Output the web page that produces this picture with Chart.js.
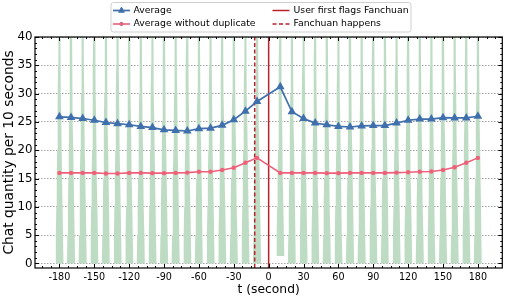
<!DOCTYPE html>
<html>
<head>
<meta charset="utf-8">
<script src="https://cdn.jsdelivr.net/npm/chart.js@4.4.0/dist/chart.umd.min.js"></script>
<style>
  html, body { margin: 0; padding: 0; background: #fff; }
</style>
</head>
<body>
<canvas id="chatChart" width="508" height="300"></canvas>
<script>
// seconds relative to the moment the user first flags Fanchuan
const times = [-180, -170, -160, -150, -140, -130, -120, -110, -100, -90, -80, -70, -60, -50, -40, -30, -20, -10,
               10, 20, 30, 40, 50, 60, 70, 80, 90, 100, 110, 120, 130, 140, 150, 160, 170, 180];

const avgChat = [25.9, 25.8, 25.6, 25.3, 24.9, 24.7, 24.5, 24.2, 24.0, 23.6, 23.5, 23.4, 23.8, 23.9, 24.4, 25.4, 26.9, 28.6,
                 31.2, 26.8, 25.6, 24.8, 24.5, 24.2, 24.1, 24.3, 24.35, 24.35, 24.8, 25.3, 25.5, 25.5, 25.75, 25.7, 25.7, 26.0];

const avgNoDup = [16.0, 16.0, 16.0, 16.0, 15.9, 15.9, 16.0, 16.0, 15.95, 15.95, 16.0, 16.05, 16.2, 16.2, 16.5, 16.9, 17.8, 18.65,
                  16.0, 16.0, 16.0, 16.0, 15.95, 15.95, 16.0, 16.0, 16.0, 16.0, 16.05, 16.1, 16.2, 16.25, 16.5, 17.0, 17.8, 18.65];

// distribution shape behind each time step (violin): lowest value and half width per level
const violinBottom = [0, 0, 0, 0, 0, 0, 0, 0, 0, 0, 0, 0, 0, 0, 0, 0, 0, 0,
                      1.3, 0, 0, 0, 0, 0, 0, 0, 0, 0, 0, 0, 0, 0, 0, 0, 0, 0];
const violinLevels = [0, 5, 10, 15, 20, 25, 30, 35, 40, 46];
const violinHalfWidth = [3.5, 3.1, 2.7, 2.3, 1.95, 1.65, 1.35, 1.12, 0.95, 0.8];

const flagTime = 0;
const fanchuanTime = -12;

const xTicks = [-180, -150, -120, -90, -60, -30, 0, 30, 60, 90, 120, 150, 180];
const yTicks = [0, 5, 10, 15, 20, 25, 30, 35, 40];
const xRange = [-201, 201];
const yRange = [-0.8, 40];

const FONT = "'DejaVu Sans', sans-serif";
const GREEN = '#bedcc3';
const BLUE = '#3f70ad';
const PINK = '#ef6079';
const DARKRED = '#b8232b';

const violinSets = times.map((t, i) => {
    const left = violinLevels.map((lv, k) => ({ x: t - violinHalfWidth[k], y: Math.max(lv, violinBottom[i]) }));
    const right = violinLevels.map((lv, k) => ({ x: t + violinHalfWidth[k], y: Math.max(lv, violinBottom[i]) })).reverse();
    return {
        label: '',
        data: left.concat(right),
        fill: 'shape',
        backgroundColor: GREEN,
        borderColor: 'rgba(0,0,0,0)',
        borderWidth: 0,
        pointRadius: 0,
        tension: 0,
        order: 10
    };
});

const lineSets = [
    {
        label: 'Average',
        data: times.map((t, i) => ({ x: t, y: avgChat[i] })),
        borderColor: BLUE,
        backgroundColor: BLUE,
        borderWidth: 1.7,
        pointStyle: 'triangle',
        pointRadius: 3.3,
        fill: false,
        tension: 0,
        order: 1
    },
    {
        label: 'Average without duplicate',
        data: times.map((t, i) => ({ x: t, y: avgNoDup[i] })),
        borderColor: PINK,
        backgroundColor: PINK,
        borderWidth: 1.6,
        pointStyle: 'circle',
        pointRadius: 1.4,
        fill: false,
        tension: 0,
        order: 2
    },
    {
        label: 'User first flags Fanchuan',
        data: [{ x: flagTime, y: yRange[0] }, { x: flagTime, y: yRange[1] }],
        borderColor: DARKRED,
        borderWidth: 1.5,
        pointRadius: 0,
        fill: false,
        order: 3
    },
    {
        label: 'Fanchuan happens',
        data: [{ x: fanchuanTime, y: yRange[0] }, { x: fanchuanTime, y: yRange[1] }],
        borderColor: DARKRED,
        borderWidth: 1.5,
        borderDash: [4, 2.5],
        pointRadius: 0,
        fill: false,
        order: 3
    }
];

// frame + inward ticks on all four sides, matplotlib style
const frameTicks = {
    id: 'frameTicks',
    afterDraw(chart) {
        const { ctx, chartArea: a, scales: { x, y } } = chart;
        ctx.save();
        ctx.strokeStyle = '#000';
        ctx.lineWidth = 1;
        const tick = (x1, y1, x2, y2) => { ctx.beginPath(); ctx.moveTo(x1, y1); ctx.lineTo(x2, y2); ctx.stroke(); };
        for (let v = -195; v <= 195; v += 7.5) {
            const px = Math.round(x.getPixelForValue(v)) + 0.5;
            const len = (v % 30 === 0) ? 4 : 2;
            tick(px, a.bottom, px, a.bottom - len);
            tick(px, a.top, px, a.top + len);
        }
        for (let v = 0; v <= 40; v += 1) {
            const py = Math.round(y.getPixelForValue(v)) + 0.5;
            const len = (v % 5 === 0) ? 4 : 2;
            tick(a.left, py, a.left + len, py);
            tick(a.right, py, a.right - len, py);
        }
        ctx.lineWidth = 1.2;
        ctx.strokeRect(a.left, a.top, a.right - a.left, a.bottom - a.top);
        ctx.restore();
    }
};

// two-column legend box above the plot
const legendBox = {
    id: 'legendBox',
    afterDraw(chart) {
        const ctx = chart.ctx;
        const cells = [
            { ds: lineSets[0], hx: 113, tx: 133.5, y: 10.5 },
            { ds: lineSets[1], hx: 113, tx: 133.5, y: 24 },
            { ds: lineSets[2], hx: 272.5, tx: 293.5, y: 10.5 },
            { ds: lineSets[3], hx: 272.5, tx: 293.5, y: 24 }
        ];
        ctx.save();
        ctx.beginPath();
        ctx.roundRect(111, 2.5, 300, 29.5, 2.5);
        ctx.fillStyle = 'rgba(255,255,255,0.85)';
        ctx.fill();
        ctx.strokeStyle = '#cfcfcf';
        ctx.lineWidth = 1;
        ctx.stroke();
        ctx.font = "9.3px " + FONT;
        ctx.textBaseline = 'middle';
        cells.forEach(c => {
            ctx.save();
            ctx.strokeStyle = c.ds.borderColor;
            ctx.lineWidth = c.ds.borderWidth;
            ctx.setLineDash(c.ds.borderDash || []);
            ctx.beginPath();
            ctx.moveTo(c.hx, c.y);
            ctx.lineTo(c.hx + 17, c.y);
            ctx.stroke();
            ctx.restore();
            if (c.ds.pointRadius) {
                Chart.helpers.drawPoint(ctx, {
                    pointStyle: c.ds.pointStyle,
                    radius: c.ds.pointRadius,
                    rotation: 0,
                    borderWidth: 1
                }, c.hx + 8.5, c.y);
                ctx.fillStyle = c.ds.backgroundColor;
                ctx.strokeStyle = c.ds.borderColor;
                ctx.fill();
                ctx.stroke();
            }
            ctx.fillStyle = '#000';
            ctx.fillText(c.ds.label, c.tx, c.y);
        });
        ctx.restore();
    }
};

const chart = new Chart(document.getElementById('chatChart'), {
    type: 'line',
    data: { datasets: violinSets.concat(lineSets) },
    options: {
        responsive: false,
        animation: false,
        devicePixelRatio: 1,
        layout: { padding: { top: 37, right: 3, left: 0, bottom: 0 } },
        plugins: {
            legend: { display: false },
            tooltip: { enabled: false }
        },
        scales: {
            x: {
                type: 'linear',
                min: xRange[0],
                max: xRange[1],
                afterBuildTicks: s => { s.ticks = xTicks.map(v => ({ value: v })); },
                afterFit: s => { s.height = 32; },
                grid: { display: false, drawTicks: false },
                border: { display: false },
                ticks: {
                    color: '#000',
                    font: { family: FONT, size: 9.6 },
                    padding: 4,
                    maxRotation: 0,
                    autoSkip: false,
                    callback: v => String(v)
                },
                title: {
                    display: true,
                    text: 't (second)',
                    color: '#000',
                    font: { family: FONT, size: 12.3 },
                    padding: { top: 0, bottom: 2.5 }
                }
            },
            y: {
                min: yRange[0],
                max: yRange[1],
                afterBuildTicks: s => { s.ticks = yTicks.map(v => ({ value: v })); },
                afterFit: s => { s.width = 35; },
                grid: { color: '#8c8c8c', lineWidth: 0.8, drawTicks: false },
                border: { display: false, dash: [1.5, 1.5] },
                ticks: {
                    color: '#000',
                    font: { family: FONT, size: 11.8 },
                    padding: 2.5,
                    callback: v => String(v)
                },
                title: {
                    display: true,
                    text: 'Chat quantity per 10 seconds',
                    color: '#000',
                    font: { family: FONT, size: 13.8 },
                    padding: { top: 1, bottom: 0 }
                }
            }
        }
    },
    plugins: [frameTicks, legendBox]
});
</script>
</body>
</html>
